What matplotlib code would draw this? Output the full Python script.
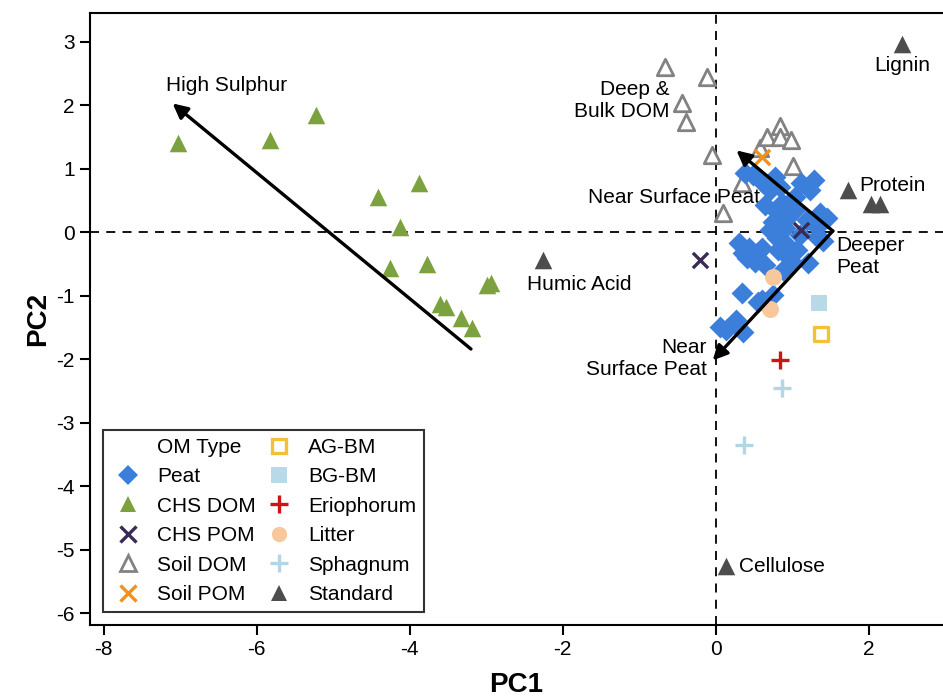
import matplotlib
matplotlib.use('Agg')
import matplotlib.pyplot as plt
from matplotlib.lines import Line2D

plt.rcParams['font.family'] = ['Liberation Sans', 'DejaVu Sans']
plt.rcParams['axes.unicode_minus'] = False

# PCA scores
peat_x = [0.48, 0.61, 0.77, 0.84, 1.12, 1.29, 1.23, 1.03, 0.86, 0.81, 0.93, 0.75, 0.90,
          1.19, 1.36, 1.45, 1.32, 0.71, 0.31, 0.44, 0.35, 0.54, 0.61, 0.81, 0.93, 0.80,
          1.06, 1.20, 0.99, 0.88, 0.94, 1.32, 1.40, 0.34, 0.61, 0.55, 0.75, 0.27, 0.14,
          0.35, 0.05, 0.51, 0.41, 0.97, 0.64, 1.03, 1.10, 0.64, 0.71, 0.38]
peat_y = [0.90, 0.79, 0.87, 0.71, 0.77, 0.82, 0.66, 0.55, 0.46, 0.30, 0.22, 0.16, 0.06,
          0.19, 0.30, 0.22, 0.08, 0.03, -0.17, -0.25, -0.33, -0.33, -0.25, -0.28, -0.20, -0.09,
          -0.28, -0.49, -0.47, -0.60, -0.39, -0.08, -0.13, -0.96, -1.07, -1.10, -0.99, -1.39, -1.54,
          -1.57, -1.50, -0.47, -0.41, -0.52, 0.43, 0.35, -0.05, -0.52, 0.66, 0.94]

chs_dom_x = [-7.03, -5.83, -5.22, -4.42, -3.88, -4.13, -4.26, -3.78, -3.61, -3.52, -3.33, -3.19, -2.99, -2.94]
chs_dom_y = [1.40, 1.45, 1.84, 0.55, 0.77, 0.09, -0.57, -0.50, -1.13, -1.18, -1.35, -1.51, -0.83, -0.80]

chs_pom_x = [1.12, -0.20]
chs_pom_y = [0.03, -0.44]

soil_dom_x = [-0.67, -0.12, -0.44, -0.39, -0.05, 0.09, 0.34, 0.58, 0.67, 0.84, 0.84, 0.98, 1.01]
soil_dom_y = [2.60, 2.44, 2.03, 1.73, 1.21, 0.31, 0.77, 1.32, 1.50, 1.68, 1.50, 1.45, 1.04]

soil_pom_x = [0.61]
soil_pom_y = [1.18]

agbm_x, agbm_y = [1.37], [-1.61]
bgbm_x, bgbm_y = [1.35], [-1.12]
erio_x, erio_y = [0.84], [-2.02]
litter_x, litter_y = [0.75, 0.71], [-0.71, -1.21]
sphag_x, sphag_y = [0.86, 0.37], [-2.46, -3.35]

std_names = ['Lignin', 'Protein', 'Protein', 'Protein', 'Humic Acid', 'Cellulose']
std_x = [2.43, 1.73, 2.03, 2.14, -2.26, 0.13]
std_y = [2.96, 0.66, 0.44, 0.44, -0.44, -5.26]

# loading arrows: (start, end)
sulphur_arrow = ((-3.20, -1.84), (-7.10, 2.03))
peat_corner = (1.53, 0.02)
peat_up = (0.27, 1.29)
peat_down = (-0.04, -2.02)

c_peat = '#3b7fdb'
c_chsdom = '#7ba23f'
c_chspom = '#3b2a55'
c_soildom = '#828282'
c_soilpom = '#f39019'
c_agbm = '#f4c136'
c_bgbm = '#b8d9e7'
c_erio = '#cc1616'
c_litter = '#f8c79b'
c_sphag = '#b4d5e6'
c_std = '#4d4d4d'

fig = plt.figure(figsize=(9.43, 7.0), dpi=100)
ax = fig.add_axes([0.0954, 0.107, 0.9046, 0.874])

ax.axhline(0, color='k', ls=(0, (5, 4)), lw=1.3, zorder=1)
ax.axvline(0, color='k', ls=(0, (5, 4)), lw=1.3, zorder=1)

ax.scatter(chs_dom_x, chs_dom_y, marker='^', s=160, color=c_chsdom, lw=0, zorder=3)
ax.scatter(soil_dom_x, soil_dom_y, marker='^', s=140, facecolor='white', edgecolor=c_soildom, lw=2, zorder=3)
ax.scatter(peat_x, peat_y, marker='D', s=125, color=c_peat, lw=0, zorder=4)
ax.scatter(chs_pom_x, chs_pom_y, marker='x', s=120, color=c_chspom, lw=2.4, zorder=5)
ax.scatter(soil_pom_x, soil_pom_y, marker='x', s=120, color=c_soilpom, lw=2.4, zorder=5)
ax.scatter(agbm_x, agbm_y, marker='s', s=100, facecolor='white', edgecolor=c_agbm, lw=2.4, zorder=5)
ax.scatter(bgbm_x, bgbm_y, marker='s', s=140, color=c_bgbm, lw=0, zorder=5)
ax.scatter(erio_x, erio_y, marker='+', s=160, color=c_erio, lw=2.4, zorder=5)
ax.scatter(litter_x, litter_y, marker='o', s=150, color=c_litter, lw=0, zorder=5)
ax.scatter(sphag_x, sphag_y, marker='+', s=160, color=c_sphag, lw=2.4, zorder=5)
ax.scatter(std_x, std_y, marker='^', s=160, color=c_std, lw=0, zorder=5)

arrow = dict(arrowstyle='-|>', color='k', lw=2.4, mutation_scale=22, shrinkA=0, shrinkB=0)
ax.annotate('', xy=sulphur_arrow[1], xytext=sulphur_arrow[0], arrowprops=arrow, zorder=6)
ax.annotate('', xy=peat_up, xytext=peat_corner, arrowprops=arrow, zorder=6)
ax.annotate('', xy=peat_down, xytext=peat_corner, arrowprops=arrow, zorder=6)

fs = 15
ax.text(-7.18, 2.31, 'High Sulphur', fontsize=fs, ha='left', va='center')
ax.text(2.44, 2.63, 'Lignin', fontsize=fs, ha='center', va='center')
ax.text(1.88, 0.74, 'Protein', fontsize=fs, ha='left', va='center')
ax.text(-1.79, -0.82, 'Humic Acid', fontsize=fs, ha='center', va='center')
ax.text(0.31, -5.26, 'Cellulose', fontsize=fs, ha='left', va='center')
ax.text(-0.60, 2.08, 'Deep &\nBulk DOM', fontsize=fs, ha='right', va='center', linespacing=1.2)
ax.text(-0.54, 0.54, 'Near Surface Peat', fontsize=fs, ha='center', va='center')
ax.text(1.58, -0.38, 'Deeper\nPeat', fontsize=fs, ha='left', va='center', linespacing=1.2)
ax.text(-0.12, -1.99, 'Near\nSurface Peat', fontsize=fs, ha='right', va='center', linespacing=1.2)

ax.set_xlim(-8.18, 2.97)
ax.set_ylim(-6.19, 3.45)
ax.set_xticks([-8, -6, -4, -2, 0, 2])
ax.set_yticks([-6, -5, -4, -3, -2, -1, 0, 1, 2, 3])
ax.tick_params(direction='out', length=7, width=1.5, labelsize=15, pad=4)
for sp in ax.spines.values():
    sp.set_linewidth(1.5)
ax.spines['right'].set_visible(False)
ax.set_xlabel('PC1', fontsize=20, fontweight='bold', labelpad=9)
ax.set_ylabel('PC2', fontsize=20, fontweight='bold', labelpad=4)

handles = [
    Line2D([], [], ls='none', marker=None),
    Line2D([], [], ls='none', marker='D', ms=10, color=c_peat, mew=0),
    Line2D([], [], ls='none', marker='^', ms=12, color=c_chsdom, mew=0),
    Line2D([], [], ls='none', marker='x', ms=11, color=c_chspom, mew=2.4),
    Line2D([], [], ls='none', marker='^', ms=11, mfc='white', mec=c_soildom, mew=2),
    Line2D([], [], ls='none', marker='x', ms=11, color=c_soilpom, mew=2.4),
    Line2D([], [], ls='none', marker='s', ms=10, mfc='white', mec=c_agbm, mew=2.4),
    Line2D([], [], ls='none', marker='s', ms=11, color=c_bgbm, mew=0),
    Line2D([], [], ls='none', marker='+', ms=13, color=c_erio, mew=2.4),
    Line2D([], [], ls='none', marker='o', ms=11, color=c_litter, mew=0),
    Line2D([], [], ls='none', marker='+', ms=13, color=c_sphag, mew=2.4),
    Line2D([], [], ls='none', marker='^', ms=12, color=c_std, mew=0),
]
labels = ['OM Type', 'Peat', 'CHS DOM', 'CHS POM', 'Soil DOM', 'Soil POM',
          'AG-BM', 'BG-BM', 'Eriophorum', 'Litter', 'Sphagnum', 'Standard']
leg = ax.legend(handles, labels, ncol=2, loc='lower left', bbox_to_anchor=(0.015, 0.021),
                borderaxespad=0, fontsize=15, fancybox=False, edgecolor='k',
                handlelength=1.6, handletextpad=0.6, columnspacing=0.3,
                labelspacing=0.5, borderpad=0.4)
leg.get_frame().set_linewidth(1.5)

fig.savefig('out.png', dpi=100)
